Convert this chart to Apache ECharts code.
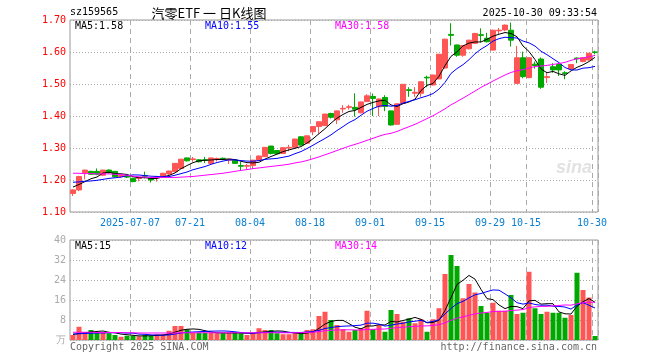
<!DOCTYPE html>
<html><head><meta charset="utf-8">
<script src="https://cdn.jsdelivr.net/npm/echarts@6/dist/echarts.min.js"></script>
<style>html,body{margin:0;padding:0;background:#fff}#c{width:660px;height:360px}</style>
</head><body><div id="c"></div>
<script>
const dates = [
'2025-06-23','2025-06-24','2025-06-25','2025-06-26','2025-06-27','2025-06-30','2025-07-01','2025-07-02','2025-07-03','2025-07-04',
'2025-07-07','2025-07-08','2025-07-09','2025-07-10','2025-07-11','2025-07-14','2025-07-15','2025-07-16','2025-07-17','2025-07-18',
'2025-07-21','2025-07-22','2025-07-23','2025-07-24','2025-07-25','2025-07-28','2025-07-29','2025-07-30','2025-07-31',
'2025-08-01','2025-08-04','2025-08-05','2025-08-06','2025-08-07','2025-08-08','2025-08-11','2025-08-12','2025-08-13','2025-08-14','2025-08-15',
'2025-08-18','2025-08-19','2025-08-20','2025-08-21','2025-08-22','2025-08-25','2025-08-26','2025-08-27','2025-08-28','2025-08-29',
'2025-09-01','2025-09-02','2025-09-03','2025-09-04','2025-09-05','2025-09-08','2025-09-09','2025-09-10','2025-09-11','2025-09-12',
'2025-09-15','2025-09-16','2025-09-17','2025-09-18','2025-09-19','2025-09-22','2025-09-23','2025-09-24','2025-09-25','2025-09-26',
'2025-09-29','2025-09-30',
'2025-10-09','2025-10-10','2025-10-13','2025-10-14','2025-10-15','2025-10-16','2025-10-17','2025-10-20','2025-10-21','2025-10-22',
'2025-10-23','2025-10-24','2025-10-27','2025-10-28','2025-10-29','2025-10-30'];

const opens = [1.158,1.169,1.223,1.227,1.227,1.215,1.231,1.227,1.211,1.213,
1.205,1.205,1.214,1.205,1.208,1.2125,1.219,1.226,1.236,1.269,
1.264,1.263,1.263,1.252,1.265,1.268,1.262,1.262,1.245,1.243,
1.245,1.262,1.273,1.306,1.292,1.283,1.300,1.302,1.335,1.315,
1.351,1.367,1.370,1.408,1.388,1.422,1.427,1.427,1.410,1.445,
1.461,1.429,1.458,1.416,1.374,1.440,1.482,1.471,1.471,1.521,
1.497,1.516,1.550,1.655,1.622,1.590,1.610,1.627,1.654,1.643,
1.606,1.666,1.669,1.668,1.502,1.582,1.520,1.562,1.578,1.520,
1.554,1.561,1.535,1.547,1.581,1.570,1.575,1.600];
const closes = [1.169,1.211,1.231,1.218,1.218,1.231,1.223,1.210,1.214,1.209,
1.195,1.207,1.212,1.200,1.210,1.221,1.228,1.252,1.265,1.260,
1.266,1.257,1.261,1.269,1.267,1.266,1.265,1.252,1.243,1.245,
1.262,1.275,1.302,1.283,1.282,1.301,1.302,1.328,1.309,1.338,
1.367,1.382,1.406,1.396,1.416,1.424,1.429,1.421,1.444,1.463,
1.455,1.453,1.430,1.372,1.438,1.499,1.480,1.474,1.507,1.519,
1.528,1.593,1.640,1.652,1.590,1.620,1.637,1.658,1.652,1.632,
1.668,1.668,1.684,1.637,1.582,1.523,1.582,1.558,1.490,1.523,
1.544,1.544,1.533,1.561,1.579,1.582,1.596,1.599];
const lows = [1.150,1.165,1.202,1.216,1.215,1.212,1.220,1.208,1.207,1.206,
1.193,1.196,1.205,1.192,1.195,1.210,1.216,1.225,1.235,1.258,
1.257,1.255,1.253,1.250,1.258,1.262,1.250,1.250,1.230,1.233,
1.234,1.261,1.272,1.280,1.280,1.282,1.290,1.300,1.308,1.313,
1.340,1.345,1.369,1.392,1.375,1.410,1.420,1.398,1.408,1.444,
1.400,1.400,1.415,1.370,1.372,1.438,1.460,1.460,1.460,1.490,
1.495,1.515,1.548,1.620,1.585,1.585,1.608,1.625,1.630,1.630,
1.605,1.655,1.665,1.617,1.500,1.518,1.518,1.548,1.485,1.503,
1.535,1.525,1.515,1.545,1.565,1.568,1.574,1.593];
const highs = [1.171,1.213,1.232,1.229,1.236,1.232,1.233,1.228,1.217,1.216,
1.207,1.210,1.226,1.207,1.213,1.222,1.229,1.253,1.266,1.270,
1.272,1.265,1.272,1.270,1.270,1.270,1.266,1.263,1.257,1.250,
1.263,1.276,1.303,1.307,1.293,1.302,1.310,1.329,1.336,1.339,
1.368,1.383,1.407,1.410,1.417,1.434,1.435,1.471,1.445,1.468,
1.470,1.455,1.465,1.417,1.439,1.500,1.490,1.490,1.508,1.526,
1.529,1.594,1.642,1.690,1.623,1.621,1.638,1.660,1.674,1.660,
1.670,1.675,1.686,1.692,1.619,1.601,1.583,1.570,1.583,1.538,
1.565,1.565,1.540,1.562,1.583,1.583,1.597,1.604];
const volumes = [2.0,5.3,2.9,4.0,2.9,2.9,2.7,2.0,1.3,1.7,
1.7,1.5,2.0,1.7,2.3,2.3,3.7,5.6,5.6,4.3,
2.9,2.9,2.9,2.9,2.7,2.7,2.7,3.2,2.7,2.0,
2.7,4.7,4.0,4.0,2.7,2.3,2.3,2.7,2.7,4.0,
4.3,9.6,11.3,8.0,6.0,4.3,3.3,4.0,4.7,11.7,
4.3,6.0,3.3,12.0,10.4,7.3,8.7,6.7,8.3,3.3,
8.3,12.7,26.4,34.0,29.6,16.7,22.4,19.0,13.6,10.9,
14.9,11.7,11.7,18.0,10.4,10.9,27.3,12.7,10.4,11.3,
10.9,10.9,8.9,10.0,26.9,20.0,17.0,1.6];

const ma5Head = [1.178,1.186,1.195,1.204];
const ma10Head = [1.193,1.194,1.196,1.197,1.199,1.202,1.205,1.207,1.209];
const ma30Head = [1.221,1.221,1.220,1.220,1.219,1.219,1.219,1.218,1.217,1.215,
1.212,1.210,1.209,1.208,1.208,1.208,1.208,1.208,1.209,1.210,
1.211,1.213,1.215,1.217,1.219,1.221,1.224,1.227,1.230];
const vma5Head = [2.2,2.6,2.9,3.2];
const vma10Head = [2.4,2.5,2.6,2.7,2.8,2.8,2.9,2.9,2.9];
const vma30Head = [3.1,3.1,3.1,3.1,3.0,3.0,3.0,3.0,3.0,2.9,
2.9,2.8,2.8,2.8,2.8,2.8,2.8,2.8,2.9,2.9,
2.9,2.9,2.9,2.9,2.9,2.9,2.9,2.9,2.9];

const tickDates = ['2025-07-07','2025-07-21','2025-08-04','2025-08-18','2025-09-01','2025-09-15','2025-09-29','2025-10-15','2025-10-30'];
const priceTicks = [1.10,1.20,1.30,1.40,1.50,1.60,1.70];
const volTicks = [0,8,16,24,32,40];
const legendPrice = ['MA5:1.58','MA10:1.55','MA30:1.58'];
const legendVol = ['MA5:15','MA10:12','MA30:14'];

function ma(vals, n, head) {
  return vals.map((v, i) => {
    if (i < n - 1) return head[i];
    let s = 0; for (let k = i - n + 1; k <= i; k++) s += vals[k];
    return +(s / n).toFixed(4);
  });
}
const kData = dates.map((d, i) => [opens[i], closes[i], lows[i], highs[i]]);
const RED = '#ff5555', GREEN = '#00a800';
const volData = volumes.map((v, i) => ({value: v, itemStyle: {color: closes[i] >= opens[i] ? RED : GREEN}}));

const tickIdx = tickDates.map(d => dates.indexOf(d));
const MONO = '"DejaVu Sans Mono", monospace';
const fmtDate = (val) => val === tickDates[0] ? val : val.slice(5);

const chart = echarts.init(document.getElementById('c'), null, {renderer: 'canvas'});
const splitX = {show: true, interval: (i) => tickIdx.includes(i), lineStyle: {color: '#aaa', type: [5, 4], width: 1}};
const lineS = (name, data, color, x, y) => ({name, type: 'line', data, xAxisIndex: x, yAxisIndex: y, symbol: 'none', smooth: false, lineStyle: {color, width: 1}, silent: true, z: 5});

chart.setOption({
  animation: false,
  backgroundColor: '#fff',
  grid: [
    {left: 70, right: 62, top: 20, height: 192, show: true, borderColor: '#999', borderWidth: 1},
    {left: 70, right: 62, top: 240, height: 100, show: true, borderColor: '#999', borderWidth: 1}
  ],
  xAxis: [
    {type: 'category', gridIndex: 0, data: dates, boundaryGap: true,
     axisLine: {show: false}, axisTick: {show: false},
     axisLabel: {interval: (i) => tickIdx.includes(i), formatter: fmtDate, color: '#0a7fd0', fontFamily: MONO, fontSize: 10, margin: 6, padding: [0, 6, 0, 0]},
     splitLine: splitX},
    {type: 'category', gridIndex: 1, data: dates, boundaryGap: true,
     axisLine: {show: false}, axisTick: {show: false}, axisLabel: {show: false},
     splitLine: splitX}
  ],
  yAxis: [
    {type: 'value', gridIndex: 0, min: priceTicks[0], max: priceTicks[priceTicks.length - 1], interval: 0.1,
     axisLine: {show: false}, axisTick: {show: false},
     axisLabel: {color: '#ff0000', fontFamily: MONO, fontSize: 10, margin: 4, formatter: (v) => v.toFixed(2)},
     splitLine: {show: true, lineStyle: {color: '#aaa', type: [1, 2]}}},
    {type: 'value', gridIndex: 1, min: volTicks[0], max: volTicks[volTicks.length - 1], interval: 8,
     axisLine: {show: false}, axisTick: {show: false},
     axisLabel: {color: '#aaa', fontFamily: MONO, fontSize: 10, margin: 4, formatter: (v) => v === 0 ? '万' : String(v)},
     splitLine: {show: true, lineStyle: {color: '#aaa', type: [1, 2]}}}
  ],
  series: [
    {type: 'candlestick', data: kData, xAxisIndex: 0, yAxisIndex: 0, barWidth: 5, silent: true,
     itemStyle: {color: RED, color0: GREEN, borderColor: RED, borderColor0: GREEN, borderWidth: 1}},
    lineS('MA5', ma(closes, 5, ma5Head), '#000000', 0, 0),
    lineS('MA10', ma(closes, 10, ma10Head), '#0000ff', 0, 0),
    lineS('MA30', ma(closes, 30, ma30Head), '#ff00ff', 0, 0),
    {type: 'bar', data: volData, xAxisIndex: 1, yAxisIndex: 1, barWidth: 5, silent: true},
    lineS('VMA5', ma(volumes, 5, vma5Head), '#000000', 1, 1),
    lineS('VMA10', ma(volumes, 10, vma10Head), '#0000ff', 1, 1),
    lineS('VMA30', ma(volumes, 30, vma30Head), '#ff00ff', 1, 1)
  ],
  graphic: [
    {type: 'text', left: 70, top: 7, style: {text: 'sz159565', font: '10px ' + MONO, fill: '#000'}},
    {type: 'text', x: 209, y: 13, style: {text: '汽零ETF 一 日K线图', font: '13px "Noto Sans CJK SC"', fill: '#000', align: 'center', verticalAlign: 'middle'}},
    {type: 'text', x: 597, y: 13, style: {text: '2025-10-30 09:33:54', font: '10px ' + MONO, fill: '#000', align: 'right', verticalAlign: 'middle'}},
    {type: 'text', x: 75, y: 26, style: {text: legendPrice[0], font: '10px ' + MONO, fill: '#000', verticalAlign: 'middle'}, z: 10},
    {type: 'text', x: 205, y: 26, style: {text: legendPrice[1], font: '10px ' + MONO, fill: '#0000ff', verticalAlign: 'middle'}, z: 10},
    {type: 'text', x: 335, y: 26, style: {text: legendPrice[2], font: '10px ' + MONO, fill: '#ff00ff', verticalAlign: 'middle'}, z: 10},
    {type: 'text', x: 75, y: 246, style: {text: legendVol[0], font: '10px ' + MONO, fill: '#000', verticalAlign: 'middle'}, z: 10},
    {type: 'text', x: 205, y: 246, style: {text: legendVol[1], font: '10px ' + MONO, fill: '#0000ff', verticalAlign: 'middle'}, z: 10},
    {type: 'text', x: 335, y: 246, style: {text: legendVol[2], font: '10px ' + MONO, fill: '#ff00ff', verticalAlign: 'middle'}, z: 10},
    {type: 'text', x: 70, y: 347, style: {text: 'Copyright 2025 SINA.COM', font: '10px ' + MONO, fill: '#666', verticalAlign: 'middle'}},
    {type: 'text', x: 597, y: 347, style: {text: 'http://finance.sina.com.cn', font: '10px ' + MONO, fill: '#666', align: 'right', verticalAlign: 'middle'}},
    {type: 'text', x: 592, y: 168, style: {text: 'sina', font: 'italic bold 18px "Liberation Sans"', fill: '#e2e2e2', align: 'right', verticalAlign: 'middle'}, z: 0}
  ]
});
</script></body></html>
